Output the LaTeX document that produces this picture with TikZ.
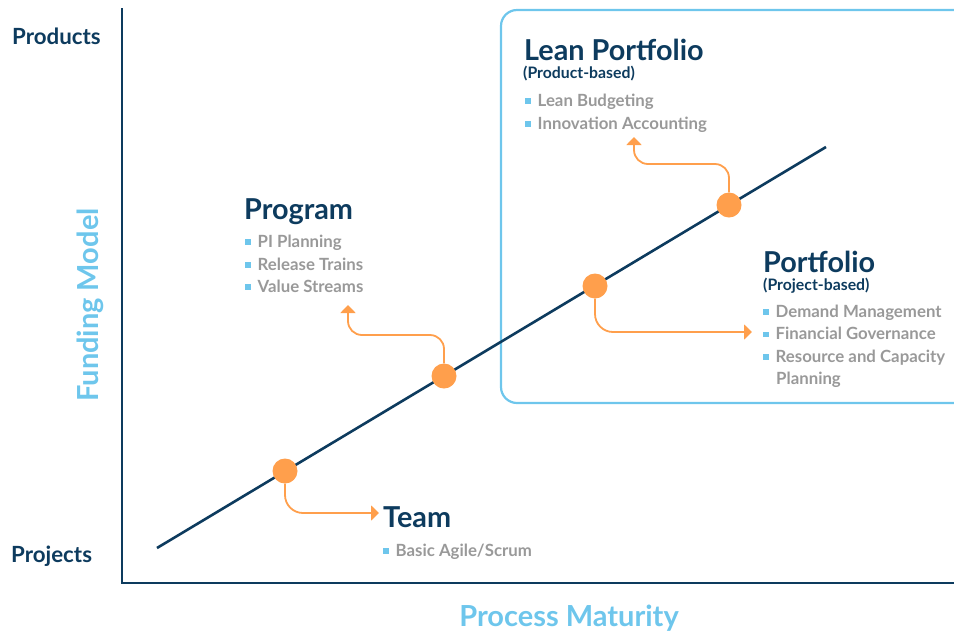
\documentclass[tikz,border=0pt]{standalone}
\usepackage{fontspec}
\setmainfont{Lato}
\usetikzlibrary{arrows.meta}
\definecolor{navy}{HTML}{0D3B5E}
\definecolor{sky}{HTML}{6EC6EC}
\definecolor{accent}{HTML}{FF9F4C}
\definecolor{muted}{HTML}{999999}
\newcommand{\bul}{\textcolor{sky}{\rule[2.5pt]{5.5pt}{5.5pt}}\hspace{7pt}}
\begin{document}
\begin{tikzpicture}[x=1pt,y=-1pt,
  head/.style={font=\fontsize{28.8}{30}\selectfont\bfseries, text=navy, anchor=base west, inner sep=0pt},
  subhead/.style={font=\fontsize{15.8}{17}\selectfont\bfseries, text=navy, anchor=base west, inner sep=0pt},
  listitem/.style={font=\fontsize{16.8}{18}\selectfont\bfseries, text=muted, anchor=base west, inner sep=0pt},
  axislabel/.style={font=\fontsize{22.3}{24}\selectfont\bfseries, text=navy, anchor=base west, inner sep=0pt},
  axistitle/.style={font=\fontsize{29}{31}\selectfont\bfseries, text=sky, anchor=base, inner sep=0pt},
  stage/.style={circle, fill=accent, minimum size=25pt, inner sep=0pt},
  link/.style={draw=accent, line width=1.8pt, rounded corners=14pt, -{Triangle[width=15pt,length=8pt]}}
]
\clip (0,0) rectangle (954,633);

% portfolio region
\draw[sky, line width=2.2pt, rounded corners=16pt] (501,10) rectangle (980,403);

% axes
\draw[navy, line width=2.6pt] (122,8) |- (970,583);

% maturity line
\coordinate (lineA) at (157,548);
\coordinate (lineB) at (826,147);
\draw[navy, line width=2.6pt] (lineA) -- (lineB);

% stages on the line
\node[stage] (c1) at (285,471) {};
\node[stage] (c2) at (444,376) {};
\node[stage] (c3) at (595,286) {};
\node[stage] (c4) at (729,205) {};

% axis labels
\node[axislabel] (products) at (12,44) {Products};
\node[axislabel] (projects) at (11,562) {Projects};
\node[axistitle, rotate=90] (funding) at (98,305) {Funding Model};
\node[axistitle] (maturity) at (569,626) {Process Maturity};

% Lean Portfolio
\node[head] (lean) at (524,60) {Lean Portfolio};
\node[subhead] (leansub) at (523,78) {(Product-based)};
\node[listitem] (lb) at (525,106) {\bul Lean Budgeting};
\node[listitem] (ia) at (525,129) {\bul Innovation Accounting};

% Program
\node[head] (program) at (244,219) {Program};
\node[listitem] (pi) at (245,247) {\bul PI Planning};
\node[listitem] (rt) at (245,270) {\bul Release Trains};
\node[listitem] (vs) at (245,292) {\bul Value Streams};

% Portfolio
\node[head] (portfolio) at (763,272) {Portfolio};
\node[subhead] (portsub) at (763,290) {(Project-based)};
\node[listitem] (dm) at (763,317) {\bul Demand Management};
\node[listitem] (fg) at (763,339.5) {\bul Financial Governance};
\node[listitem] (rc) at (763,362) {\bul Resource and Capacity};
\node[listitem] (pl) at (776,384.5) {Planning};

% Team
\node[head] (team) at (383,527) {Team};
\node[listitem] (bas) at (383,556) {\bul Basic Agile/Scrum};

% connectors
\coordinate (t1) at (379,513);
\coordinate (t2) at (348,305);
\coordinate (t3) at (752,332);
\coordinate (t4) at (634,137);
\draw[link, rounded corners=18pt] (c1.south) |- (t1);
\draw[link] (c2.north) |- (t2 |- 0,335) -- (t2);
\draw[link, rounded corners=18pt] (c3.south) |- (t3);
\draw[link] (c4.north) |- (t4 |- 0,164) -- (t4);
\end{tikzpicture}
\end{document}
